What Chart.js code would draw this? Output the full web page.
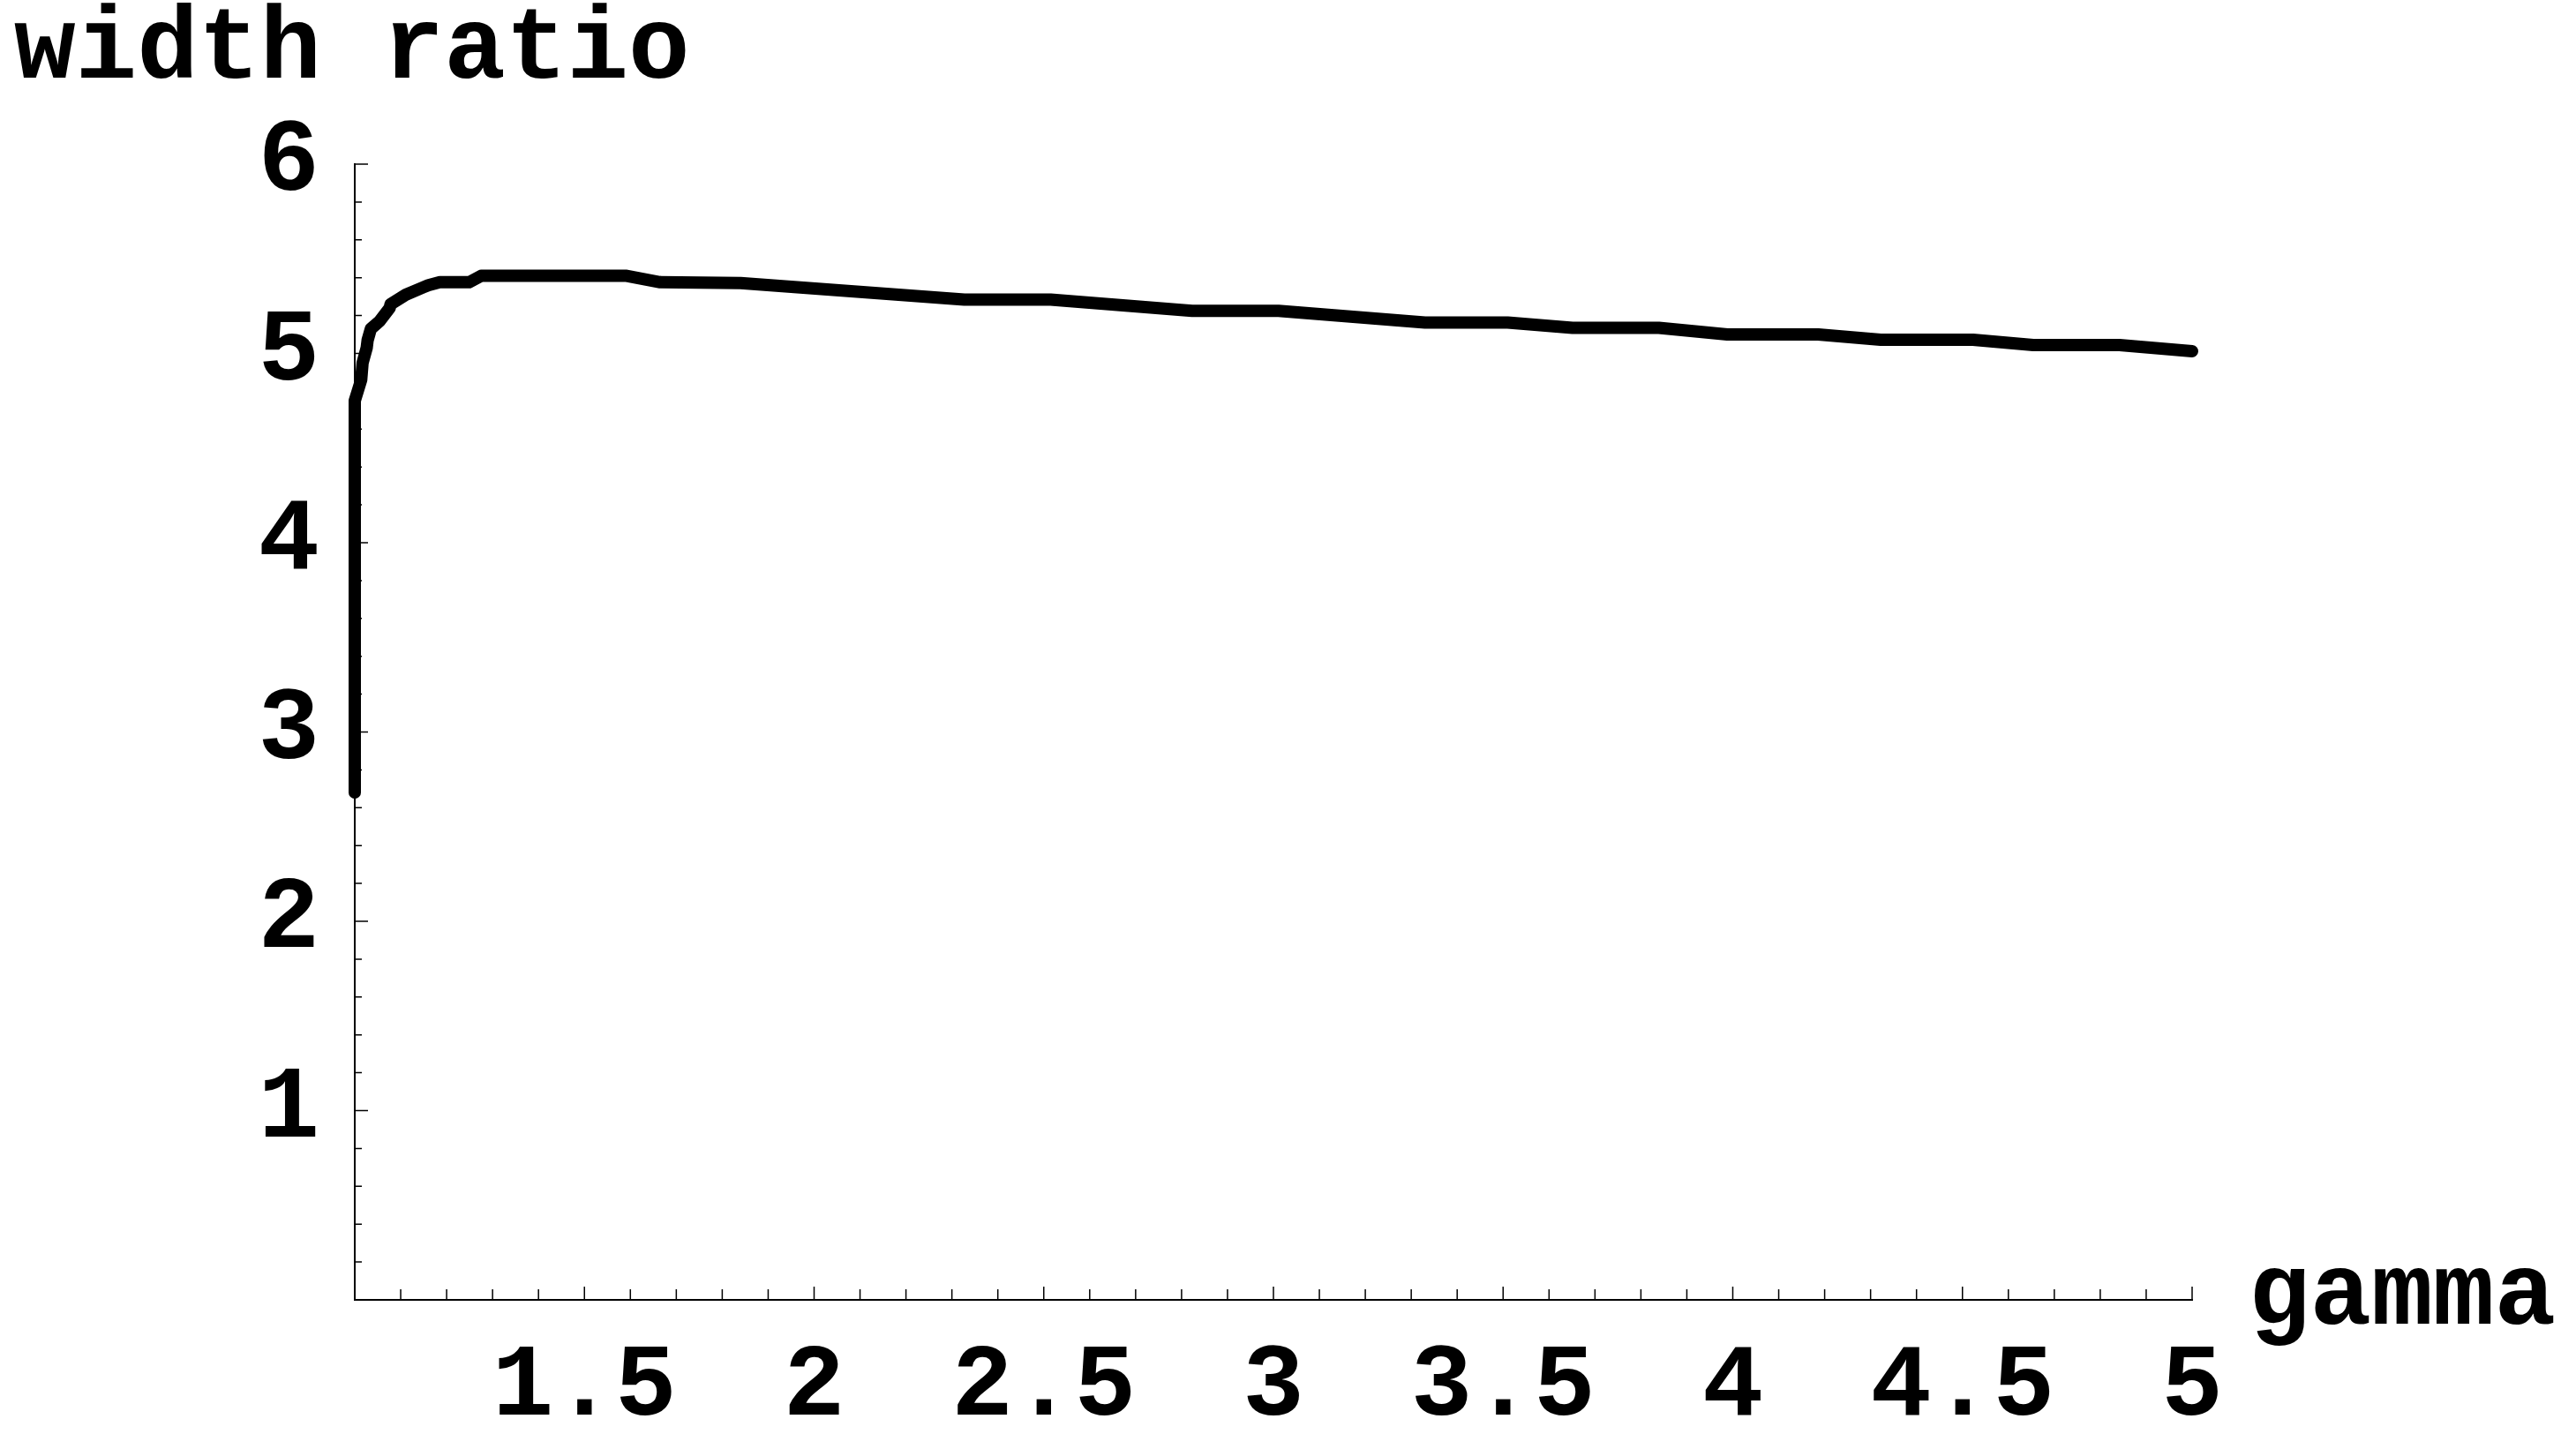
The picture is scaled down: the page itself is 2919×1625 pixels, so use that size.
<!DOCTYPE html>
<html>
<head>
<meta charset="utf-8">
<title>width ratio vs gamma</title>
<script src="https://cdn.jsdelivr.net/npm/chart.js@4.4.1/dist/chart.umd.min.js"></script>
<style>
	html, body { margin: 0; padding: 0; background: #fff; }
	canvas { display: block; }
</style>
</head>
<body>
<canvas id="ratioChart" width="2919" height="1625"></canvas>
<script>
const gamma = [1.0, 1.0, 1.014, 1.017, 1.026, 1.028, 1.035, 1.054, 1.076, 1.078, 1.111, 1.15, 1.16, 1.185, 1.249, 1.275,
	1.592, 1.665, 1.84, 2.327, 2.515, 2.823, 3.011, 3.33, 3.51, 3.651, 3.839, 3.988, 4.186, 4.322, 4.523, 4.654, 4.842, 5.0];
const widthRatio = [2.68, 4.75, 4.86, 4.95, 5.03, 5.07, 5.13, 5.17, 5.24, 5.26, 5.31, 5.35, 5.36, 5.376, 5.376, 5.41,
	5.41, 5.376, 5.372, 5.284, 5.284, 5.225, 5.225, 5.163, 5.163, 5.135, 5.135, 5.10, 5.10, 5.072, 5.072, 5.044, 5.044, 5.012];
const xTickLabels = ['1.5', '2', '2.5', '3', '3.5', '4', '4.5', '5'];
const yTickLabels = ['1', '2', '3', '4', '5', '6'];
const xAxisTitle = 'gamma';
const yAxisTitle = 'width ratio';

const labelFont = { family: '"Liberation Mono", "DejaVu Sans Mono", monospace', size: 116, weight: 'bold' };

// Mathematica style ticks pointing into the plot, plus the two axis captions
const innerTicks = {
	id: 'innerTicks',
	beforeDatasetsDraw(chart) {
		const { ctx, scales: { x, y } } = chart;
		ctx.save();
		ctx.strokeStyle = '#000';
		ctx.lineWidth = 1.5;
		ctx.beginPath();
		for (let i = 1; i <= 40; i++) {
			const px = x.getPixelForValue(1 + i * 0.1);
			const len = i % 5 === 0 ? 15 : 12;
			ctx.moveTo(px, y.bottom);
			ctx.lineTo(px, y.bottom - len);
		}
		for (let i = 1; i <= 30; i++) {
			const py = y.getPixelForValue(i * 0.2);
			const len = i % 5 === 0 ? 15 : 8;
			ctx.moveTo(x.left, py);
			ctx.lineTo(x.left + len, py);
		}
		ctx.stroke();
		ctx.restore();
	},
	afterDraw(chart) {
		const { ctx, scales: { x, y } } = chart;
		ctx.save();
		ctx.fillStyle = '#000';
		ctx.font = `bold ${labelFont.size}px ${labelFont.family}`;
		ctx.textBaseline = 'alphabetic';
		ctx.textAlign = 'left';
		ctx.fillText(yAxisTitle, 16, 88);
		ctx.fillText(xAxisTitle, x.right + 64, y.bottom + 27);
		ctx.restore();
	}
};

const chartConfig = {
	type: 'line',
	data: {
		datasets: [{
			data: gamma.map((g, i) => ({ x: g, y: widthRatio[i] })),
			borderColor: '#000',
			borderWidth: 14,
			borderCapStyle: 'round',
			borderJoinStyle: 'round',
			pointRadius: 0,
			tension: 0,
			fill: false,
			clip: false
		}]
	},
	options: {
		responsive: false,
		animation: false,
		events: [],
		devicePixelRatio: 1,
		layout: { padding: { left: 0, top: 186, right: 435, bottom: 0 } },
		scales: {
			x: {
				type: 'linear',
				min: 1,
				max: 5,
				afterBuildTicks: scale => { scale.ticks = xTickLabels.map(l => ({ value: parseFloat(l) })); },
				afterFit: scale => { scale.height = 152; },
				grid: { display: false, drawTicks: false },
				border: { display: true, color: '#000', width: 2 },
				ticks: {
					autoSkip: false,
					maxRotation: 0,
					padding: 31,
					color: '#000',
					font: labelFont,
					callback: (value, index) => xTickLabels[index]
				}
			},
			y: {
				type: 'linear',
				min: 0,
				max: 6,
				afterBuildTicks: scale => { scale.ticks = yTickLabels.map(l => ({ value: parseFloat(l) })); },
				afterFit: scale => { scale.width = 402; },
				grid: { display: false, drawTicks: false },
				border: { display: true, color: '#000', width: 2 },
				ticks: {
					autoSkip: false,
					padding: 40,
					color: '#000',
					font: labelFont,
					callback: (value, index) => yTickLabels[index]
				}
			}
		},
		plugins: {
			legend: { display: false },
			tooltip: { enabled: false },
			title: { display: false }
		}
	},
	plugins: [innerTicks]
};

new Chart(document.getElementById('ratioChart').getContext('2d'), chartConfig);
</script>
</body>
</html>
